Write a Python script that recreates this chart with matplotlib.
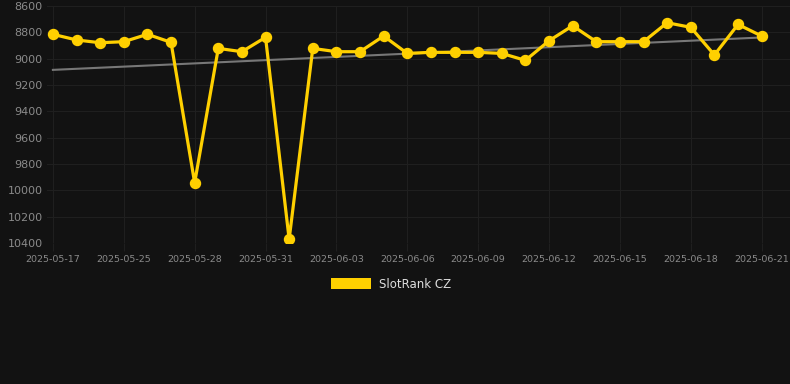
import matplotlib
matplotlib.use('Agg')
import matplotlib.pyplot as plt
from matplotlib.patches import Patch
import numpy as np

dates = ['2025-05-17', '2025-05-23', '2025-05-24'] + \
        ['2025-05-%02d' % d for d in range(25, 32)] + \
        ['2025-06-%02d' % d for d in range(1, 22)]
rank = [8815, 8858, 8879, 8871, 8815, 8876, 9943, 8922, 8947, 8838,
        10371, 8922, 8947, 8947, 8828, 8960, 8952, 8952, 8952, 8960,
        9013, 8864, 8750, 8871, 8871, 8871, 8727, 8762, 8972, 8740, 8828]
tick_every = 3
series_name = 'SlotRank CZ'

bg = '#121212'
gold = '#ffd000'
grid_c = '#1f1f1f'
txt_c = '#8a8a8a'

x = np.arange(len(rank))
coef = np.polyfit(x, rank, 1)
trend = np.polyval(coef, x)

fig = plt.figure(figsize=(7.9, 3.84), dpi=100, facecolor=bg)
ax = fig.add_axes([47/790, 1 - 243/384, 1 - 47/790, 237/384], facecolor=bg)

ax.plot(x, trend, color='#777777', lw=1.5, zorder=2)
ax.plot(x, rank, color=gold, lw=2.3, marker='o', ms=7.2, zorder=3)

ax.set_ylim(10400, 8600)
ax.set_yticks(range(8600, 10401, 200))
ax.set_xlim(-0.25, len(rank) - 1 + 1.2)
ticks = x[::tick_every]
ax.set_xticks(ticks)
ax.set_xticklabels([dates[i] for i in ticks])

ax.grid(True, color=grid_c, lw=0.8)
ax.set_axisbelow(True)
for s in ax.spines.values():
    s.set_visible(False)
ax.tick_params(axis='x', colors=grid_c, labelcolor=txt_c, labelsize=6.8, length=6, pad=3)
ax.tick_params(axis='y', length=0, labelcolor=txt_c, labelsize=8, pad=3)

fig.legend(handles=[Patch(facecolor=gold, label=series_name)],
           loc='center', bbox_to_anchor=(391/790, 1 - 284/384), frameon=False,
           handlelength=3.4, handleheight=1.1, fontsize=8.5, labelcolor='#dddddd',
           handletextpad=0.6)

fig.savefig('out.png', dpi=100, facecolor=bg)
